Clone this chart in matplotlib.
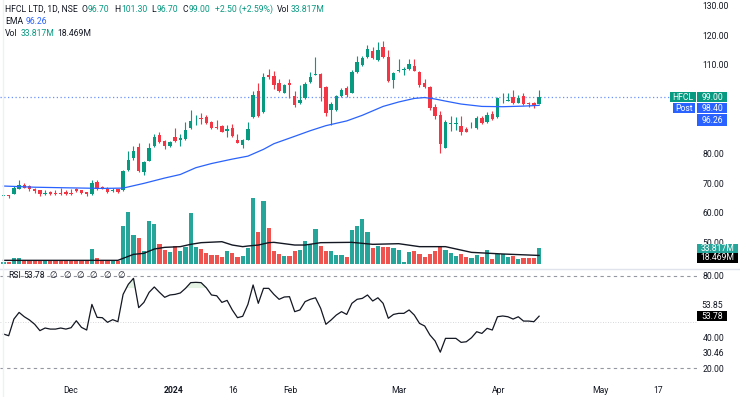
import matplotlib
matplotlib.use('Agg')
import matplotlib.pyplot as plt
from matplotlib.patches import Rectangle
from matplotlib.lines import Line2D
import numpy as np

plt.rcParams['font.family'] = ['Roboto', 'DejaVu Sans']

# ---------------- data ----------------
opens = [65.7, 65.9, 66.4, 68.1, 69.3, 68.9, 68.0, 67.5, 66.3, 67.0,
         66.7, 66.6, 66.9, 66.7, 68.0, 67.6, 66.9, 66.2, 70.4, 68.6,
         67.9, 67.3, 67.9, 67.7, 74.3, 78.4, 82.2, 73.7, 77.5, 82.5,
         86.3, 84.2, 82.5, 85.6, 84.6, 84.8, 88.5, 91.5, 92.0, 92.4,
         90.7, 88.9, 89.3, 87.6, 88.5, 84.6, 83.0, 84.7, 92.4, 101.2,
         94.1, 106.6, 106.3, 103.9, 100.6, 103.9, 99.5, 97.2, 98.6, 104.0,
         106.6, 107.0, 102.5, 94.7, 94.7, 99.5, 102.0, 100.6, 107.4, 109.9,
         112.5, 114.7, 111.7, 115.9, 112.6, 104.8, 107.7, 108.2, 108.5, 109.7,
         107.4, 103.9, 102.6, 95.8, 93.0, 82.0, 89.9, 89.9, 89.3, 88.2,
         88.8, 88.7, 92.1, 90.5, 93.5, 92.4, 98.6, 97.9, 99.2, 97.2,
         99.5, 97.2, 97.2, 96.7]
highs = [66.1, 66.0, 69.0, 71.0, 70.1, 69.2, 68.5, 67.7, 67.6, 67.2,
         67.6, 68.5, 67.6, 68.0, 68.3, 67.8, 67.1, 70.9, 70.9, 69.0,
         68.7, 68.2, 68.1, 74.3, 80.8, 82.6, 83.6, 77.6, 83.5, 86.5,
         87.4, 84.5, 84.2, 88.5, 86.5, 90.5, 94.6, 93.1, 93.8, 92.9,
         91.0, 91.4, 89.6, 89.7, 90.0, 86.5, 85.0, 90.7, 101.2, 103.7,
         107.1, 108.5, 107.8, 105.0, 103.5, 105.2, 101.2, 103.1, 104.0, 107.6,
         112.5, 107.3, 102.8, 97.3, 99.8, 102.2, 102.8, 108.2, 112.8, 113.0,
         116.7, 116.1, 117.6, 117.9, 114.9, 107.5, 111.9, 109.3, 111.9, 111.9,
         107.7, 105.0, 102.9, 96.7, 94.2, 91.3, 92.7, 92.2, 92.7, 89.0,
         90.6, 92.5, 92.7, 94.1, 94.4, 99.2, 100.3, 100.3, 101.5, 99.8,
         100.6, 97.5, 97.5, 101.3]
lows = [65.5, 64.9, 66.2, 67.9, 68.2, 67.3, 66.8, 65.6, 66.1, 66.1,
        66.1, 66.1, 66.1, 66.1, 67.0, 66.2, 65.7, 66.0, 67.8, 67.9,
        66.8, 66.9, 66.8, 67.4, 74.0, 77.8, 73.9, 72.6, 77.3, 82.2,
        83.6, 81.6, 82.2, 84.0, 82.5, 84.5, 88.2, 89.5, 89.8, 90.0,
        88.4, 88.4, 87.1, 85.7, 85.7, 83.4, 81.7, 84.5, 92.0, 92.3,
        93.6, 105.3, 101.7, 100.7, 100.3, 98.9, 95.6, 96.8, 98.3, 103.7,
        106.4, 97.9, 92.7, 89.7, 94.4, 99.2, 99.0, 100.3, 107.1, 109.6,
        112.2, 111.9, 111.4, 112.2, 104.3, 102.0, 107.4, 106.4, 108.2, 107.7,
        102.3, 102.0, 94.6, 91.8, 80.3, 81.8, 87.6, 87.8, 86.3, 87.1,
        88.6, 88.4, 89.9, 90.2, 91.3, 92.1, 96.9, 97.6, 96.7, 96.9,
        96.4, 95.6, 95.5, 96.7]
closes = [65.9, 65.6, 68.4, 69.3, 68.4, 68.0, 67.2, 66.3, 66.6, 66.3,
          66.3, 66.3, 66.3, 66.3, 67.2, 66.6, 66.2, 70.1, 68.0, 68.3,
          67.0, 67.8, 67.0, 74.0, 77.7, 80.8, 74.1, 77.2, 82.0, 85.6,
          83.9, 82.5, 83.9, 84.2, 85.3, 87.9, 91.0, 91.8, 91.6, 90.2,
          88.6, 88.6, 87.3, 88.4, 85.9, 83.6, 84.7, 88.2, 99.7, 92.6,
          105.7, 105.7, 103.1, 101.0, 103.1, 103.2, 96.4, 98.1, 103.5, 105.7,
          106.9, 102.0, 93.8, 96.7, 99.5, 101.5, 99.8, 107.4, 110.8, 112.1,
          115.3, 112.1, 115.1, 112.5, 104.6, 107.2, 108.3, 108.4, 110.2, 108.0,
          103.2, 102.3, 95.3, 92.5, 83.3, 90.7, 90.1, 90.1, 87.1, 87.4,
          89.0, 91.9, 90.2, 93.0, 91.6, 98.6, 98.8, 98.1, 97.0, 98.9,
          96.7, 96.7, 96.5, 99.0]
volumes = [3.6, 5.0, 12.2, 13.6, 7.9, 7.2, 7.2, 7.9, 6.5, 7.2,
           7.2, 7.2, 7.2, 7.2, 7.2, 7.9, 8.6, 31.6, 12.2, 8.6,
           8.6, 7.9, 7.2, 82.6, 111.3, 62.5, 55.3, 28.0, 92.7, 86.2,
           43.1, 30.2, 25.1, 38.8, 28.0, 37.4, 109.2, 35.9, 31.6, 23.0,
           19.4, 19.4, 14.4, 28.0, 23.0, 15.8, 17.2, 33.8, 142.9, 68.2,
           135.8, 76.9, 28.0, 21.6, 16.5, 17.2, 28.0, 30.2, 49.6, 43.8,
           75.4, 38.8, 28.0, 28.0, 19.4, 19.4, 14.4, 73.3, 82.6, 96.3,
           69.7, 35.2, 39.5, 35.9, 35.9, 33.8, 30.2, 4.3, 25.9, 28.0,
           22.3, 15.8, 21.6, 28.0, 37.4, 30.2, 23.0, 18.0, 21.6, 15.8,
           12.9, 19.4, 15.8, 30.2, 10.8, 21.6, 20.9, 15.1, 18.0, 11.5,
           13.7, 12.2, 12.2, 33.817]
ema_idx = [0, 6, 12, 19, 23, 27, 31, 34, 37, 40, 44, 47, 50, 52, 56, 59,
           62, 66, 69, 71, 73, 76, 79, 81, 83, 85, 88, 92, 96, 100, 103]
ema_val = [69.0, 68.6, 68.4, 68.2, 68.3, 69.9, 71.7, 72.9, 75.2, 76.6, 78.1,
           79.1, 81.4, 83.3, 85.8, 87.7, 89.4, 91.0, 92.9, 94.4, 95.9, 97.4,
           98.6, 98.9, 98.4, 97.7, 96.7, 95.9, 95.8, 96.0, 96.26]
vol_ma_idx = [0, 22, 23, 25, 27, 29, 31, 34, 36, 38, 42, 44, 46, 47, 49, 51,
              52, 56, 58, 61, 67, 71, 76, 80, 85, 90, 96, 103]
vol_ma_val = [7.9, 7.9, 12.2, 20.8, 23.0, 32.3, 35.9, 37.4, 42.4, 46.0, 48.1,
              40.9, 37.4, 38.8, 40.9, 46.0, 46.7, 40.9, 40.9, 46.0, 46.7, 42.4,
              43.8, 37.4, 37.4, 25.1, 21.6, 18.469]
rsi = [42.2, 41.1, 51.9, 56.2, 53.4, 51.3, 48.5, 44.4, 46.1, 45.4,
       45.4, 46.1, 45.4, 46.3, 50.8, 46.5, 44.8, 61.4, 53.0, 52.8,
       49.8, 51.5, 50.2, 67.9, 74.4, 78.3, 59.3, 62.7, 69.2, 72.7,
       69.2, 66.0, 67.5, 67.9, 68.8, 71.8, 75.5, 75.7, 75.5, 72.2,
       67.5, 67.0, 62.7, 64.0, 57.8, 52.8, 53.7, 61.4, 74.0, 62.1,
       71.8, 71.8, 67.9, 64.7, 66.2, 66.4, 56.7, 57.8, 63.2, 64.7,
       65.7, 58.8, 48.5, 51.3, 54.5, 56.7, 54.9, 62.1, 64.7, 65.3,
       67.5, 63.6, 65.7, 62.1, 52.4, 54.9, 55.6, 55.6, 57.8, 54.5,
       49.1, 47.4, 41.6, 37.7, 30.46, 39.4, 39.4, 39.4, 36.8, 37.2,
       39.8, 43.7, 42.6, 45.9, 44.8, 53.4, 53.9, 53.4, 51.9, 53.4,
       50.6, 50.6, 50.2, 53.78]
rsi_ma_last = 53.85
post_price = 98.40
x_tick_pos = [12.9, 32.7, 44.2, 55.1, 76.1, 95.3, 114.7, 125.9]
x_tick_labels = ['Dec', '2024', '16', 'Feb', 'Mar', 'Apr', 'May', '17']
price_ticks = [50, 60, 70, 80, 110, 120, 130]
symbol = 'HFCL'
title = 'HFCL LTD, 1D, NSE'

# ---------------- style ----------------
W, H = 740, 397
UP, DOWN = '#089981', '#F23645'
VUP, VDOWN = '#26a69a', '#ef5350'
BLUE = '#2962FF'
TXT = '#131722'
FS = 6.2

fig = plt.figure(figsize=(W / 100, H / 100), dpi=100)
fig.patch.set_facecolor('white')

n = len(closes)
x = np.arange(n)
XL = (-3.5 / 5.2, (697 - 3.5) / 5.2)

price_rect = [0, 1 - 268 / H, 697 / W, 268 / H]
ax_vol = fig.add_axes(price_rect)
ax = fig.add_axes(price_rect, label='price')
ax_r = fig.add_axes([0, 1 - 378 / H, 697 / W, 109 / H])

# volume
vcolors = [VUP if c >= o else VDOWN for o, c in zip(opens, closes)]
ax_vol.bar(x, volumes, width=0.8, color=vcolors, edgecolor='none')
ax_vol.plot(vol_ma_idx, vol_ma_val, color=TXT, lw=1.0)
ax_vol.set_xlim(*XL)
ax_vol.set_ylim(-8.6, 569)
ax_vol.axis('off')

# candles
ax.patch.set_alpha(0)
ccolors = [UP if c >= o else DOWN for o, c in zip(opens, closes)]
ax.vlines(x, lows, highs, colors=ccolors, lw=0.8, zorder=3)
bodies = [max(abs(c - o), 0.3) for o, c in zip(opens, closes)]
bottoms = [min(o, c) for o, c in zip(opens, closes)]
ax.bar(x, bodies, bottom=bottoms, width=0.66, color=ccolors, zorder=4)
ax.plot(ema_idx, ema_val, color=BLUE, lw=0.9, zorder=5)
ax.axhline(closes[-1], color=BLUE, lw=0.9, ls=(0, (1, 2)), alpha=0.7, zorder=2)
ax.set_xlim(*XL)
ax.set_ylim(41.3, 131.86)
ax.yaxis.tick_right()
ax.set_yticks(price_ticks, ['%.2f' % v for v in price_ticks])
ax.set_xticks([])
ax.tick_params(axis='y', length=0, pad=4.0, labelsize=FS, labelcolor=TXT)
for s in ax.spines.values():
    s.set_visible(False)

# RSI
ax_r.plot(x, rsi, color=TXT, lw=0.9, zorder=3)
r = np.array(rsi)
ax_r.fill_between(x, r, 72, where=r > 72, interpolate=True,
                  color='#4caf50', alpha=0.15, lw=0)
ax_r.axhline(80, color='#9598a1', lw=0.8, dashes=(3, 3))
ax_r.axhline(20, color='#9598a1', lw=0.8, dashes=(3, 3))
ax_r.axhline(50, color='#9598a1', lw=0.6, dashes=(1, 2), alpha=0.5)
ax_r.set_xlim(*XL)
ax_r.set_ylim(13.71, 84.34)
ax_r.yaxis.tick_right()
rt = [80, 40, min(rsi), 20]
ax_r.set_yticks(rt, ['%.2f' % v for v in rt])
ax_r.set_xticks(x_tick_pos, x_tick_labels)
ax_r.tick_params(axis='y', length=0, pad=4.0, labelsize=FS, labelcolor=TXT)
ax_r.tick_params(axis='x', length=0, pad=6, labelsize=FS, labelcolor=TXT)
ax_r.get_xticklabels()[1].set_fontweight('bold')
for s in ax_r.spines.values():
    s.set_visible(False)

# separators
fig.add_artist(Line2D([0, 1], [1 - 268.5 / H] * 2, color='#e0e3eb', lw=1))
fig.add_artist(Line2D([2.5 / W] * 2, [0, 1], color='#eef0f4', lw=1))


def ypix(axis, v):
    return axis.transData.transform((0, v))[1]


def box(x0, x1, yc, h, color, text):
    fig.add_artist(Rectangle((x0 / W, (yc - h / 2) / H), (x1 - x0) / W, h / H,
                             transform=fig.transFigure, color=color, lw=0))
    fig.text((x0 + x1) / 2 / W, yc / H, text, color='white', ha='center',
             va='center', fontsize=FS)


# price labels (stacked)
y_close = ypix(ax, closes[-1])
y_post = min(ypix(ax, post_price), y_close - 11)
y_ema = min(ypix(ax, ema_val[-1]), y_post - 12)
box(670, 696, y_close, 10.5, UP, symbol)
box(697, 727, y_close, 10.5, UP, '%.2f' % closes[-1])
box(673, 695, y_post, 10.5, BLUE, 'Post')
box(697, 727, y_post, 10.5, BLUE, '%.2f' % post_price)
box(697, 727, y_ema, 11.5, BLUE, '%.2f' % ema_val[-1])

y_v = ypix(ax_vol, volumes[-1])
y_vma = min(ypix(ax_vol, vol_ma_val[-1]), y_v - 9.5)
box(697, 738, y_v, 9, VUP, '%.3fM' % volumes[-1])
box(697, 738, y_vma, 9.5, '#000000', '%.3fM' % vol_ma_val[-1])

y_r = ypix(ax_r, rsi[-1])
box(697, 727, y_r, 9.5, '#000000', '%.2f' % rsi[-1])
fig.text(701.5 / W, (y_r + 11) / H, '%.2f' % rsi_ma_last, color=TXT,
         ha='left', va='center', fontsize=FS)

# header legend
renderer = fig.canvas.get_renderer()


def seq(x0, ytop, parts):
    xp = x0
    for s, col, gap in parts:
        t = fig.text(xp / W, 1 - ytop / H, s, color=col, fontsize=FS,
                     ha='left', va='center')
        w = t.get_window_extent(renderer).width
        xp += w + gap


o, h, l, c = opens[-1], highs[-1], lows[-1], closes[-1]
chg = c - closes[-2]
pct = chg / closes[-2] * 100
seq(5, 9, [(title, TXT, 4), ('O', TXT, 0.5), ('%.2f' % o, UP, 4.5),
           ('H', TXT, 0.5), ('%.2f' % h, UP, 4.5),
           ('L', TXT, 0.5), ('%.2f' % l, UP, 4.5),
           ('C', TXT, 0.5), ('%.2f' % c, UP, 4.5),
           ('%+.2f (%+.2f%%)' % (chg, pct), UP, 4),
           ('Vol', TXT, 0.5), ('%.3fM' % volumes[-1], UP, 0)])
seq(5, 21, [('EMA', TXT, 3), ('%.2f' % ema_val[-1], BLUE, 0)])
seq(5, 33.5, [('Vol', TXT, 3), ('%.3fM' % volumes[-1], UP, 3),
              ('%.3fM' % vol_ma_val[-1], TXT, 0)])

# RSI legend
seq(8, 275.5, [('RSI', TXT, 3), ('%.2f' % rsi[-1], TXT, 4)] +
    [('\u2205', TXT, 6)] * 6)

fig.savefig('out.png', dpi=100, facecolor='white')
